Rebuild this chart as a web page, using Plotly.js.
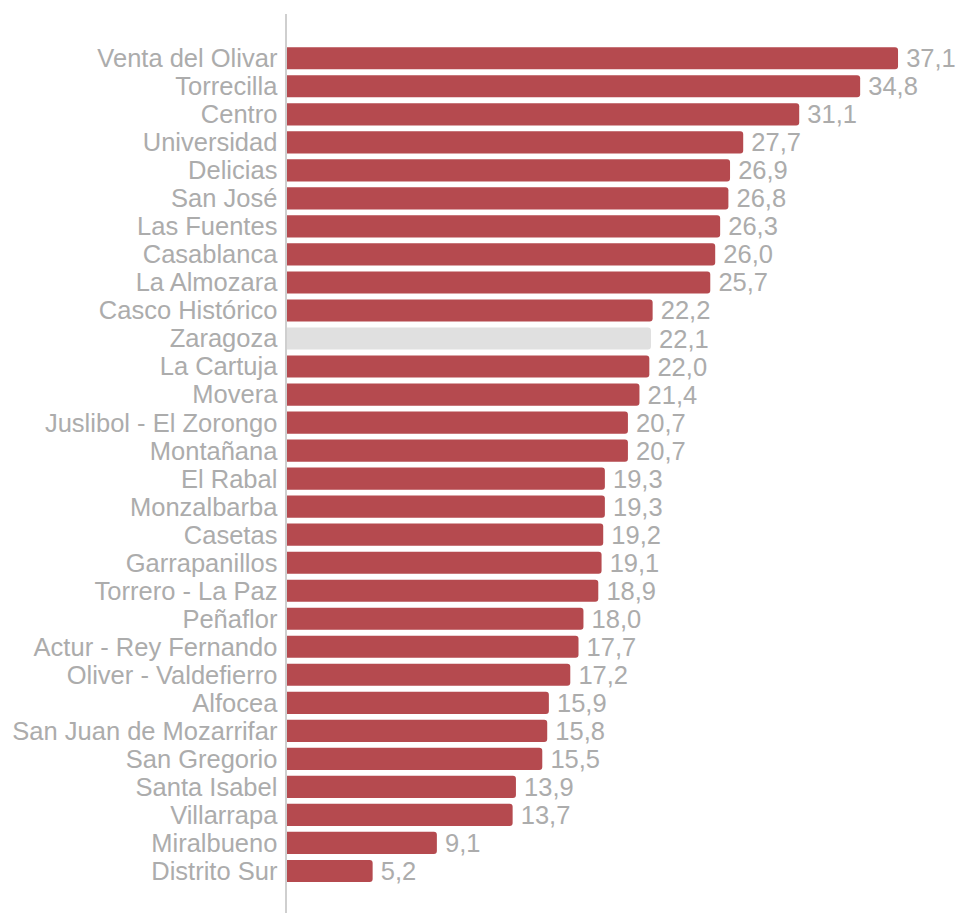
<!DOCTYPE html>
<html>
<head>
<meta charset="utf-8">
<script src="https://cdn.plot.ly/plotly-3.0.1.min.js"></script>
<style>
  html, body { margin: 0; padding: 0; background: #ffffff; }
  #chart { width: 956px; height: 913px; }
</style>
</head>
<body>
<div id="chart"></div>
<script>
// Districts, ordered from highest to lowest value
const districts = [
  "Venta del Olivar", "Torrecilla", "Centro", "Universidad", "Delicias",
  "San José", "Las Fuentes", "Casablanca", "La Almozara", "Casco Histórico",
  "Zaragoza", "La Cartuja", "Movera", "Juslibol - El Zorongo", "Montañana",
  "El Rabal", "Monzalbarba", "Casetas", "Garrapanillos", "Torrero - La Paz",
  "Peñaflor", "Actur - Rey Fernando", "Oliver - Valdefierro", "Alfocea",
  "San Juan de Mozarrifar", "San Gregorio", "Santa Isabel", "Villarrapa",
  "Miralbueno", "Distrito Sur"
];

const values = [
  37.1, 34.8, 31.1, 27.7, 26.9,
  26.8, 26.3, 26.0, 25.7, 22.2,
  22.1, 22.0, 21.4, 20.7, 20.7,
  19.3, 19.3, 19.2, 19.1, 18.9,
  18.0, 17.7, 17.2, 15.9,
  15.8, 15.5, 13.9, 13.7,
  9.1, 5.2
];

// The city-wide total is shown in neutral grey
const highlightName = "Zaragoza";
const barRed = "#b54a4f";
const barGrey = "#e0e0e0";
const barColors = districts.map(d => d === highlightName ? barGrey : barRed);

const labelFont = { family: "Liberation Sans, Arial, sans-serif", size: 25.5, color: "#acacac" };

const trace = {
  type: "bar",
  orientation: "h",
  x: values,
  y: districts,
  marker: { color: barColors, cornerradius: 3, line: { width: 0 } },
  text: values.map(v => "\u2009" + v.toFixed(1).replace(".", ",")),
  texttemplate: "%{text}",
  textposition: "outside",
  constraintext: "none",
  cliponaxis: false,
  textfont: labelFont,
  hoverinfo: "skip"
};

const layout = {
  width: 956,
  height: 913,
  margin: { l: 287, r: 0, t: 14, b: 0, pad: 0 },
  paper_bgcolor: "#ffffff",
  plot_bgcolor: "#ffffff",
  showlegend: false,
  bargap: 0.21,
  separators: ",.",
  uniformtext: { mode: false },
  xaxis: {
    range: [0, 40.62],
    showgrid: false,
    zeroline: false,
    showticklabels: false,
    ticks: "",
    showline: false,
    fixedrange: true
  },
  yaxis: {
    type: "category",
    range: [30.5, -1.58],
    tickmode: "array",
    tickvals: districts,
    ticktext: districts,
    showgrid: false,
    zeroline: false,
    showline: true,
    linecolor: "#cfcfcf",
    linewidth: 2.5,
    ticks: "",
    ticklabelstandoff: 2,
    tickfont: labelFont,
    fixedrange: true
  }
};

Plotly.newPlot("chart", [trace], layout, { displayModeBar: false, staticPlot: true });
</script>
</body>
</html>
